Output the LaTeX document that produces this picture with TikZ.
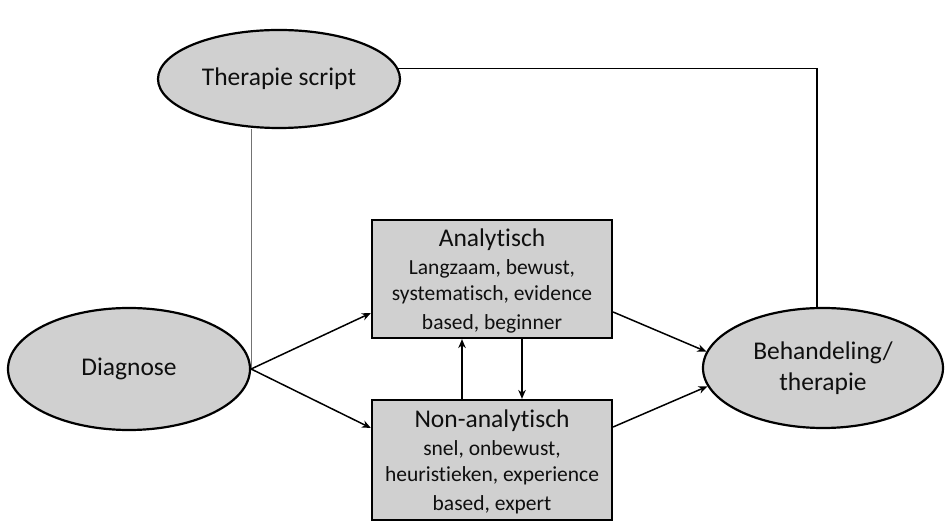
\documentclass[tikz,border=0pt]{standalone}
\usepackage{fontspec}
\setmainfont{Carlito}[Ligatures=NoCommon]
\usetikzlibrary{shapes.geometric,arrows.meta}
\definecolor{fillgray}{RGB}{208,208,208}
\definecolor{txt}{RGB}{15,15,15}
\tikzset{
  oval/.style={ellipse, draw=black, line width=2.2pt, fill=fillgray, inner sep=0pt, text=txt, align=center, font=\fontsize{25.5}{31}\selectfont},
  box/.style={rectangle, draw=black, line width=2.2pt, fill=fillgray, inner sep=0pt, text=txt, align=center, minimum width=240pt},
  conn/.style={line width=1.5pt, -{Stealth[length=9pt,width=7.5pt]}},
  plain/.style={line width=1.5pt},
  title/.style={text=txt, font=\fontsize{25.5}{30}\selectfont},
  desc/.style={text=txt, align=center, font=\fontsize{21.5}{26}\selectfont, anchor=north},
}
\begin{document}
\begin{tikzpicture}[x=1pt,y=1pt]
\useasboundingbox (0,0) rectangle (945,522);
\node[oval, minimum width=242pt, minimum height=98pt] (ts) at (279,443) {Therapie script};
\node[oval, minimum width=242pt, minimum height=122pt] (dg) at (129,153) {Diagnose};
\node[oval, minimum width=240pt, minimum height=120pt] (beh) at (823,154) {Behandeling/\\therapie};
\node[box, minimum height=118pt] (an) at (492,243) {};
\node[box, minimum height=120pt] (na) at (492,62) {};
\node[title] (ant) at (492,282) {Analytisch};
\node[desc] (and) at (492,266) {Langzaam, bewust,\\systematisch, evidence\\[3pt]based, beginner};
\node[title] (nat) at (492,101) {Non-analytisch};
\node[desc] (nad) at (492,85) {snel, onbewust,\\heuristieken, experience\\[3pt]based, expert};
\draw[line width=0.9pt, black!55] (dg.east) -- (dg.east |- ts.south);
\draw[plain] (ts.5) -| ([xshift=-6pt]beh.north);
\draw[conn] (dg.east) -- ([yshift=-34pt]an.west);
\draw[conn] (dg.east) -- ([yshift=32pt]na.west);
\draw[conn] ([yshift=-33pt]an.east) -- (beh.172.6);
\draw[conn] ([yshift=33pt]na.east) -- (beh.189.3);
\draw[conn] ([xshift=-30pt]na.north) -- ([xshift=-30pt]an.south);
\draw[conn] ([xshift=30pt]an.south) -- ([xshift=30pt]na.north);
\end{tikzpicture}
\end{document}
